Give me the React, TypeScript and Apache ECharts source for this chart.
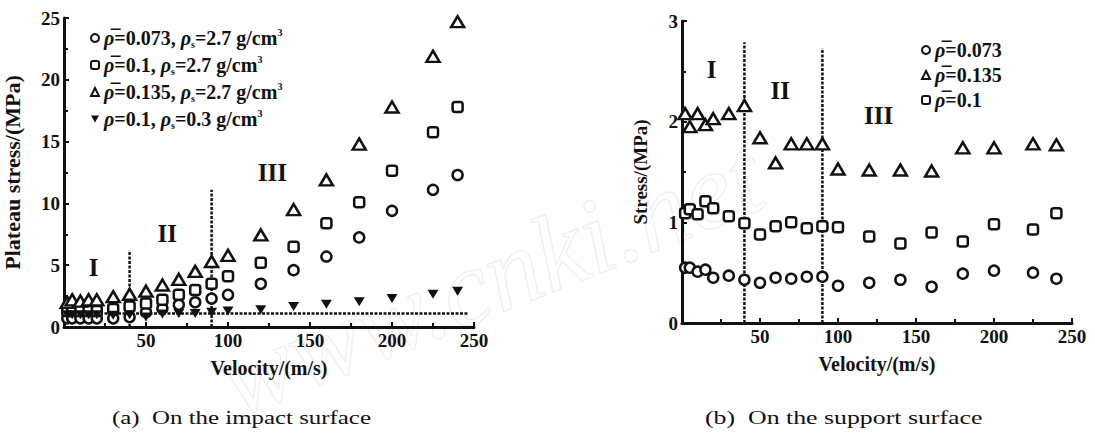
import React, { useEffect, useRef } from "react";
import * as echarts from "echarts";

// ---------- data ----------
const velocity = [2, 5, 10, 15, 20, 30, 40, 50, 60, 70, 80, 90, 100, 120, 140, 160, 180, 200, 225, 240];

// (a) impact surface, plateau stress (MPa)
const impact073 = [0.7, 0.7, 0.7, 0.7, 0.7, 0.7, 0.8, 1.2, 1.5, 1.8, 2.0, 2.3, 2.6, 3.5, 4.6, 5.7, 7.25, 9.4, 11.1, 12.3];
const impact100 = [1.3, 1.3, 1.3, 1.3, 1.3, 1.45, 1.65, 1.9, 2.2, 2.6, 3.0, 3.5, 4.1, 5.2, 6.5, 8.4, 10.1, 12.65, 15.75, 17.8];
const impact135 = [2.0, 2.2, 2.1, 2.2, 2.2, 2.45, 2.65, 2.9, 3.4, 3.85, 4.5, 5.3, 5.8, 7.45, 9.5, 11.9, 14.8, 17.8, 21.9, 24.7];
const impactLow = [1.0, 1.0, 1.0, 1.0, 1.0, 0.95, 1.0, 0.8, 1.05, 1.1, 1.1, 1.2, 1.3, 1.4, 1.65, 1.85, 2.05, 2.3, 2.65, 2.9];

// (b) support surface, stress (MPa)
const support073 = [0.55, 0.55, 0.51, 0.53, 0.45, 0.47, 0.43, 0.4, 0.45, 0.44, 0.46, 0.46, 0.37, 0.4, 0.43, 0.36, 0.49, 0.52, 0.5, 0.44];
const support135 = [2.08, 1.95, 2.08, 1.97, 2.03, 2.08, 2.16, 1.84, 1.59, 1.78, 1.78, 1.78, 1.53, 1.52, 1.52, 1.51, 1.74, 1.74, 1.78, 1.77];
const support100 = [1.09, 1.13, 1.08, 1.21, 1.14, 1.06, 0.99, 0.88, 0.96, 1.0, 0.94, 0.96, 0.95, 0.86, 0.79, 0.9, 0.81, 0.98, 0.93, 1.09];

// guide lines and region labels
const impactVLine1 = [[40, 0], [40, 6.2]];
const impactVLine2 = [[90, 0], [90, 11.1]];
const impactHLine = [[0, 1.1], [246, 1.1]];
const supportVLine1 = [[40, 0], [40, 2.79]];
const supportVLine2 = [[90, 0], [90, 2.73]];
const impactRegions = [
  { name: "I", value: [18, 4.8] },
  { name: "II", value: [63, 7.6] },
  { name: "III", value: [127, 12.5] },
];
const supportRegions = [
  { name: "I", value: [19, 2.52] },
  { name: "II", value: [63, 2.31] },
  { name: "III", value: [126, 2.06] },
];

const impactTicks = { min: 0, max: 25, interval: 5 };
const supportTicks = { min: 0, max: 3, interval: 1 };
const velocityTicks = { min: 0, max: 250, interval: 50 };

const captionA = "(a)  On the impact surface";
const captionB = "(b)  On the support surface";
const watermark = "www.cnki.net";

const nameA073 = "a-0.073";
const nameA100 = "a-0.1";
const nameA135 = "a-0.135";
const nameALow = "a-low";
const nameB073 = "b-0.073";
const nameB135 = "b-0.135";
const nameB100 = "b-0.1";

const legendLabels: Record<string, string> = {
  [nameA073]: "{i|ρ̅}=0.073, {i|ρ}{s|s}=2.7 g/cm{p|3}",
  [nameA100]: "{i|ρ̅}=0.1, {i|ρ}{s|s}=2.7 g/cm{p|3}",
  [nameA135]: "{i|ρ̅}=0.135, {i|ρ}{s|s}=2.7 g/cm{p|3}",
  [nameALow]: "{i|ρ}=0.1, {i|ρ}{s|s}=0.3 g/cm{p|3}",
  [nameB073]: "{i|ρ̅}=0.073",
  [nameB135]: "{i|ρ̅}=0.135",
  [nameB100]: "{i|ρ̅}=0.1",
};

const zip = (xs: number[], ys: number[]) => ys.map((y, i) => [xs[i], y]);

const FONT = "Liberation Serif";
const INK = "#111";

export default function App() {
  const ref = useRef<HTMLDivElement>(null);
  useEffect(() => {
    if (!ref.current) return;
    const chart = echarts.init(ref.current, null, { renderer: "svg" });

    const richLegend = {
      i: { fontFamily: FONT, fontWeight: "bold", fontStyle: "italic", fontSize: 20, color: INK },
      s: { fontFamily: FONT, fontWeight: "bold", fontSize: 10, color: INK, verticalAlign: "bottom", padding: [7, 0, 0, 0] },
      p: { fontFamily: FONT, fontWeight: "bold", fontSize: 10, color: INK, verticalAlign: "top", padding: [0, 0, 7, 0] },
    };

    const axisCommon = (grid: number) => ({
      gridIndex: grid,
      type: "value",
      axisLine: { show: true, onZero: false, lineStyle: { color: INK, width: 3 } },
      axisTick: { show: true, inside: true, length: 5, lineStyle: { color: INK, width: 2 } },
      minorTick: { show: true, splitNumber: 2, length: 4, lineStyle: { color: INK, width: 2 } },
      splitLine: { show: false },
      axisLabel: { color: INK, fontFamily: FONT, fontWeight: "bold", fontSize: 19, margin: 4 },
      nameTextStyle: { color: INK, fontFamily: FONT, fontWeight: "bold", fontSize: 20 },
    });

    const scatterBase = {
      type: "scatter",
      itemStyle: { color: "#fff", borderColor: INK, borderWidth: 2.5, opacity: 1 },
    };

    const guide = (x: number, y: number, data: number[][]) => ({
      type: "line",
      xAxisIndex: x,
      yAxisIndex: y,
      data,
      symbol: "none",
      silent: true,
      lineStyle: { color: INK, width: 2.5, type: [3, 1.5] },
      z: 1,
    });

    const regions = (x: number, y: number, data: any[]) => ({
      type: "scatter",
      xAxisIndex: x,
      yAxisIndex: y,
      data,
      symbolSize: 0,
      silent: true,
      itemStyle: { opacity: 1 },
      label: {
        show: true,
        position: "inside",
        formatter: "{b}",
        color: INK,
        opacity: 1,
        fontFamily: FONT,
        fontWeight: "bold",
        fontSize: 25,
      },
    });

    const legendText = { color: INK, fontFamily: FONT, fontWeight: "bold", fontSize: 20, lineHeight: 22, rich: richLegend };

    chart.setOption({
      animation: false,
      backgroundColor: "#fff",
      grid: [
        { left: 62, top: 18, width: 412, height: 309 },
        { left: 682, top: 21, width: 390, height: 302 },
      ],
      xAxis: [
        {
          ...axisCommon(0),
          ...velocityTicks,
          name: "Velocity/(m/s)",
          nameLocation: "middle",
          nameGap: 31,
          axisLabel: { ...axisCommon(0).axisLabel, formatter: (v: number) => (v === 0 ? "" : String(v)) },
        },
        {
          ...axisCommon(1),
          ...velocityTicks,
          name: "Velocity/(m/s)",
          nameLocation: "middle",
          nameGap: 31,
          axisLabel: { ...axisCommon(1).axisLabel, formatter: (v: number) => (v === 0 ? "" : String(v)) },
        },
      ],
      yAxis: [
        {
          ...axisCommon(0),
          ...impactTicks,
          name: "Plateau stress/(MPa)",
          nameLocation: "middle",
          nameGap: 41,
          nameTextStyle: { color: INK, fontFamily: FONT, fontWeight: "bold", fontSize: 22 },
        },
        {
          ...axisCommon(1),
          ...supportTicks,
          name: "Stress/(MPa)",
          nameLocation: "middle",
          nameGap: 32,
          nameTextStyle: { color: INK, fontFamily: FONT, fontWeight: "bold", fontSize: 19 },
        },
      ],
      legend: [
        {
          data: [
            { name: nameA073 },
            { name: nameA100 },
            { name: nameA135 },
            { name: nameALow, icon: "path://M0,0L10,0L5,9Z" },
          ],
          orient: "vertical",
          left: 85,
          top: 22,
          itemWidth: 8,
          itemHeight: 8,
          itemGap: 5,
          selectedMode: false,
          formatter: (n: string) => legendLabels[n],
          textStyle: legendText,
        },
        {
          data: [nameB073, nameB135, nameB100],
          orient: "vertical",
          left: 916,
          top: 34,
          itemWidth: 8,
          itemHeight: 8,
          itemGap: 3,
          selectedMode: false,
          formatter: (n: string) => legendLabels[n],
          textStyle: legendText,
        },
      ],
      series: [
        guide(0, 0, impactVLine1),
        guide(0, 0, impactVLine2),
        guide(0, 0, impactHLine),
        guide(1, 1, supportVLine1),
        guide(1, 1, supportVLine2),
        { ...scatterBase, name: nameA073, xAxisIndex: 0, yAxisIndex: 0, symbol: "circle", symbolSize: 10, data: zip(velocity, impact073) },
        { ...scatterBase, name: nameA100, xAxisIndex: 0, yAxisIndex: 0, symbol: "roundRect", symbolSize: 10, data: zip(velocity, impact100) },
        { ...scatterBase, name: nameA135, xAxisIndex: 0, yAxisIndex: 0, symbol: "triangle", symbolSize: [13, 11], data: zip(velocity, impact135) },
        {
          type: "scatter",
          name: nameALow,
          xAxisIndex: 0,
          yAxisIndex: 0,
          symbol: "triangle",
          symbolRotate: 180,
          symbolSize: [11, 9],
          itemStyle: { color: INK, opacity: 1 },
          data: zip(velocity, impactLow),
        },
        { ...scatterBase, name: nameB073, xAxisIndex: 1, yAxisIndex: 1, symbol: "circle", symbolSize: 10, data: zip(velocity, support073) },
        { ...scatterBase, name: nameB135, xAxisIndex: 1, yAxisIndex: 1, symbol: "triangle", symbolSize: [13, 11], data: zip(velocity, support135) },
        { ...scatterBase, name: nameB100, xAxisIndex: 1, yAxisIndex: 1, symbol: "roundRect", symbolSize: 10, data: zip(velocity, support100) },
        regions(0, 0, impactRegions),
        regions(1, 1, supportRegions),
      ],
      graphic: [
        {
          type: "text",
          x: 490,
          y: 278,
          rotation: 0.38,
          silent: true,
          z: -10,
          style: {
            text: watermark,
            fontFamily: FONT,
            fontStyle: "italic",
            fontSize: 108,
            align: "center",
            verticalAlign: "middle",
            fill: "rgba(0,0,0,0)",
            stroke: "#f0f0f0",
            lineWidth: 1.5,
          },
        },
        {
          type: "text",
          x: 112,
          y: 418,
          scaleX: 1.31,
          style: { text: captionA, fontFamily: FONT, fontSize: 19, fill: INK, verticalAlign: "middle" },
        },
        {
          type: "text",
          x: 705,
          y: 418,
          scaleX: 1.36,
          style: { text: captionB, fontFamily: FONT, fontSize: 19, fill: INK, verticalAlign: "middle" },
        },
      ],
    });
    return () => chart.dispose();
  }, []);
  return <div ref={ref} style={{ position: "fixed", left: 0, top: 0, width: 1095, height: 444 }} />;
}
